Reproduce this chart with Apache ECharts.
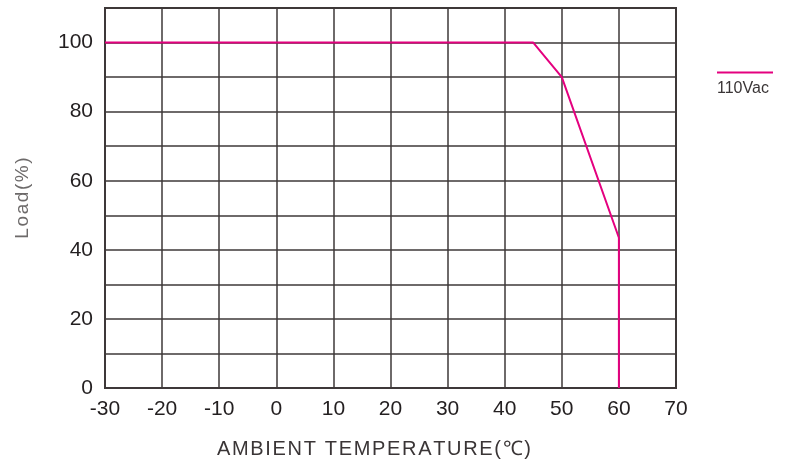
<!DOCTYPE html>
<html>
<head>
<meta charset="utf-8">
<script src="https://cdn.jsdelivr.net/npm/echarts@6/dist/echarts.min.js"></script>
<style>
    html,body{margin:0;padding:0;background:#fff;}
    #chart{width:786px;height:468px;}
</style>
</head>
<body>
<div id="chart"></div>
<script>
    // derating curve, 110Vac
    var seriesName = '110Vac';
    var tempX = [-30, 45, 50, 60, 60];
    var loadY = [100, 100, 90, 43.5, 0];
    var yLabels = [0, 20, 40, 60, 80, 100];

    var lineColor = '#e4007f';
    var gridColor = '#3e3839';

    // spread letters a bit (hair space)
    function spaced(s) {
        return s.split('').join('\u200A');
    }

    var data = [];
    for (var i = 0; i < tempX.length; i++) {
        data.push([tempX[i], loadY[i]]);
    }

    var myChart = echarts.init(document.getElementById('chart'));
    var option = {
        animation: false,
        grid: {
            left: 105, right: 110, top: 8, bottom: 80,
            show: true, borderColor: gridColor, borderWidth: 2
        },
        xAxis: {
            type: 'value',
            min: -30, max: 70, interval: 10,
            axisLine: {show: true, onZero: false, lineStyle: {color: gridColor, width: 2}},
            axisTick: {show: false},
            splitLine: {show: true, lineStyle: {color: gridColor, width: 1.5}},
            axisLabel: {
                color: '#231f20', fontSize: 21, margin: 11,
                fontFamily: 'Liberation Sans'
            }
        },
        yAxis: {
            type: 'value',
            min: 0, max: 110, interval: 10,
            name: spaced('Load(%)'),
            nameLocation: 'middle',
            nameGap: 73,
            nameTextStyle: {color: '#6d6a6a', fontSize: 19, fontFamily: 'Liberation Sans'},
            axisLine: {show: true, onZero: false, lineStyle: {color: gridColor, width: 2}},
            axisTick: {show: false},
            splitLine: {show: true, lineStyle: {color: gridColor, width: 1.5}},
            axisLabel: {
                color: '#231f20', fontSize: 21, margin: 12,
                fontFamily: 'Liberation Sans',
                formatter: function (v) {
                    return yLabels.indexOf(v) >= 0 ? String(v) : '';
                }
            }
        },
        graphic: [
            {
                type: 'text', left: 217, top: 439,
                style: {
                    text: spaced('AMBIENT TEMPERATURE(℃)'),
                    fill: '#3a3536', fontSize: 20, fontFamily: 'Liberation Sans'
                }
            },
            {
                type: 'line',
                shape: {x1: 717, y1: 72.5, x2: 773, y2: 72.5},
                style: {stroke: lineColor, lineWidth: 2}
            },
            {
                type: 'text', left: 717, top: 81,
                style: {text: seriesName, fill: '#3a3536', fontSize: 16, fontFamily: 'Liberation Sans'}
            }
        ],
        series: [
            {
                name: seriesName,
                type: 'line',
                symbol: 'none',
                lineStyle: {color: lineColor, width: 2},
                data: data
            }
        ]
    };
    myChart.setOption(option);
</script>
</body>
</html>
